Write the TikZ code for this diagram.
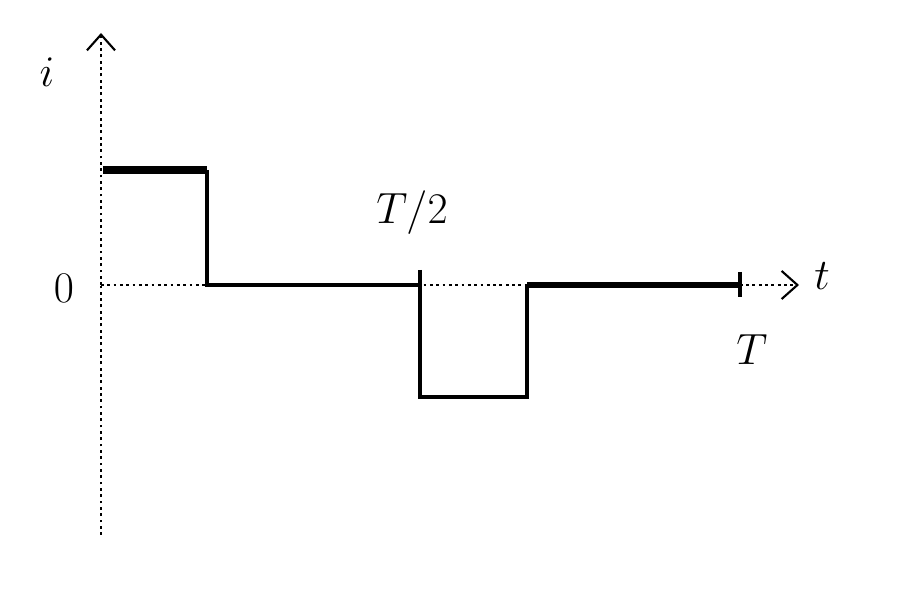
\documentclass[tikz,border=0pt]{standalone}
\usetikzlibrary{arrows.meta}
\begin{document}
\begin{tikzpicture}[> = {Straight Barb[length=9pt, width=16pt, line width=1.2pt]}, % arrow head style
                x = 0.02cm, y = -0.02cm, % one unit is one pixel of the picture
                axis/.style = {dotted, line width = 1.6pt},
                wave/.style = {line width = 2pt},
                lbl/.style = {font = \fontsize{36}{40}\selectfont}
            ]

            \useasboundingbox (0,0) rectangle (900,607);

            % axes
            \coordinate (O) at (101,285); \coordinate (ybot) at (101,535);
            \coordinate (ytop) at (101,33); \coordinate (xend) at (799,285);
            \draw[axis] (ybot) -- (O);
            \draw[axis, ->] (O) -- (ytop);
            \draw[axis, ->] (O) -- (xend);

            % square wave
            \coordinate (a) at (103,170); \coordinate (b) at (207,170);
            \coordinate (c) at (207,285); \coordinate (d) at (420,285);
            \coordinate (e) at (420,397); \coordinate (f) at (527,397);
            \coordinate (g) at (527,285); \coordinate (h) at (740,285);
            \draw[wave, line width = 4pt] (a) -- (b);
            \draw[wave] (b) -- (c) -- (d) -- (e) -- (f) -- (g);
            \draw[wave, line width = 3pt] (g) -- (h);
            \coordinate (dt) at (420,270); \draw[wave] (dt) -- (d);
            \coordinate (ht) at (740,272); \coordinate (hb) at (740,297);
            \draw[wave] (ht) -- (hb);

            % labels
            \node[lbl] (ilbl) at (47,72) {$i$};
            \node[lbl] (zero) at (64,288) {$0$};
            \node[lbl] (half) at (412,213) {$T/2$};
            \node[lbl] (tlbl) at (822,276) {$t$};
            \node[lbl] (Tlbl) at (752,350) {$T$};

        \end{tikzpicture}
\end{document}
